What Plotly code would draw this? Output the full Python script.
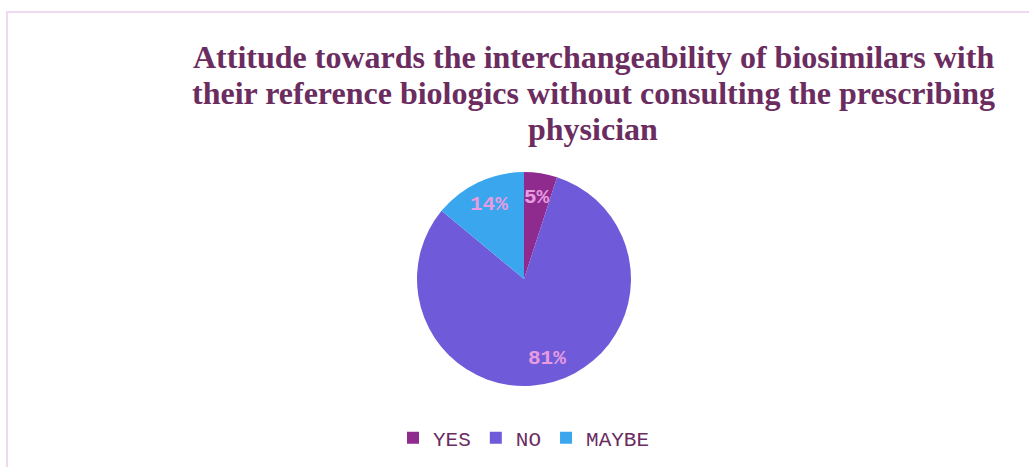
import math
import plotly.graph_objects as go

# Survey responses
categories = ["YES", "NO", "MAYBE"]
shares = [5, 81, 14]
slice_colors = ["#8f2b8f", "#6f5ad9", "#3aa6ee"]

title_lines = [
    "Attitude towards the interchangeability of biosimilars with",
    "their reference biologics without consulting the prescribing",
    "physician",
]

W, H = 1029, 467
# pie placement in pixels
cx, cy, r = 524, 279, 107
label_frac = 0.77

fig = go.Figure(
    go.Pie(
        labels=categories,
        values=shares,
        sort=False,
        direction="clockwise",
        rotation=0,
        marker=dict(colors=slice_colors, line=dict(width=0)),
        textinfo="none",
        hoverinfo="label+percent",
        domain=dict(x=[(cx - r) / W, (cx + r) / W], y=[1 - (cy + r) / H, 1 - (cy - r) / H]),
        showlegend=True,
    )
)

annotations = []

# chart title, one line per annotation for tight line spacing
title_font = dict(family="Liberation Serif, Times New Roman, serif", size=32, color="#6b2c5f", weight="bold")
for i, line in enumerate(title_lines):
    annotations.append(
        dict(
            x=593 / W, y=1 - (57 + 36 * i) / H, xref="paper", yref="paper",
            text=line, showarrow=False, font=title_font,
            xanchor="center", yanchor="middle",
        )
    )

# percentage labels at each slice's mid-angle
total = sum(shares)
start = 0.0
for cat, v in zip(categories, shares):
    mid = (start + v / 2) / total * 2 * math.pi
    start += v
    px = cx + label_frac * r * math.sin(mid)
    py = cy - label_frac * r * math.cos(mid)
    annotations.append(
        dict(
            x=px / W, y=1 - py / H, xref="paper", yref="paper",
            text=f"<b>{round(v / total * 100)}%</b>", showarrow=False,
            font=dict(family="Liberation Mono, Courier New, monospace", size=21, color="#e89ce0"),
            xanchor="center", yanchor="middle",
        )
    )

# frame lines (top and left)
shapes = [
    dict(type="line", xref="paper", yref="paper", x0=6 / W, x1=1, y0=1 - 12 / H, y1=1 - 12 / H,
         line=dict(color="#f0d8ef", width=2)),
    dict(type="line", xref="paper", yref="paper", x0=7 / W, x1=7 / W, y0=0, y1=1 - 11 / H,
         line=dict(color="#f0d8ef", width=2)),
]

fig.update_layout(
    width=W, height=H,
    margin=dict(l=0, r=0, t=0, b=0),
    paper_bgcolor="white", plot_bgcolor="white",
    legend=dict(
        orientation="h", x=524 / W, xanchor="center", y=1 - 438 / H, yanchor="middle",
        font=dict(family="Liberation Mono, Courier New, monospace", size=21, color="#6b2c5f"),
        traceorder="normal",
    ),
    annotations=annotations,
    shapes=shapes,
)

fig.write_html("out.html")
